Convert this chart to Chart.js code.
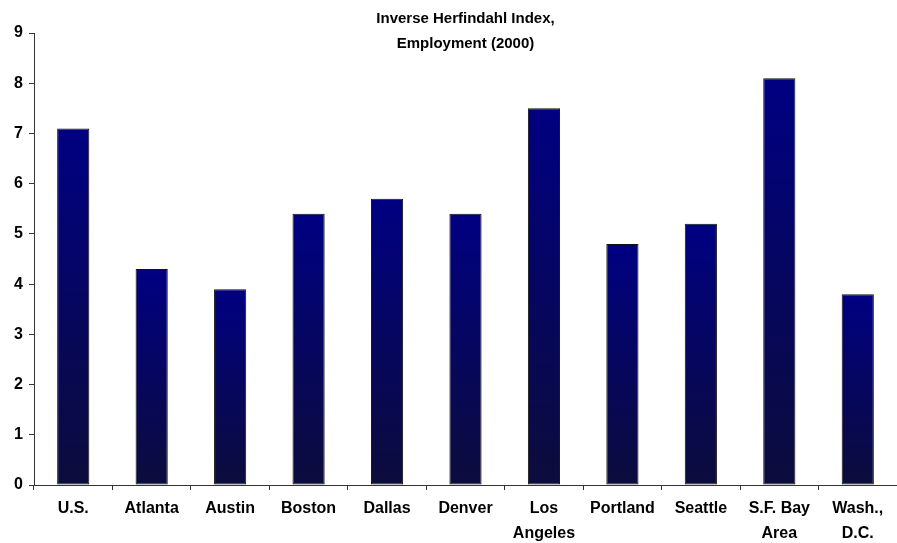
<!DOCTYPE html>
<html>
<head>
<meta charset="utf-8">
<style>
  html, body { margin: 0; padding: 0; background: #ffffff; }
  #wrap { width: 897px; height: 543px; }
</style>
<script src="https://cdn.jsdelivr.net/npm/chart.js@4/dist/chart.umd.min.js"></script>
</head>
<body>
<div id="wrap"><canvas id="c" width="897" height="543"></canvas></div>
<script>
const titleLines = ['Inverse Herfindahl Index,', 'Employment (2000)'];
const categories = ['U.S.', 'Atlanta', 'Austin', 'Boston', 'Dallas', 'Denver', ['Los', 'Angeles'], 'Portland', 'Seattle', ['S.F. Bay', 'Area'], ['Wash.,', 'D.C.']];
const values = [7.1, 4.3, 3.9, 5.4, 5.7, 5.4, 7.5, 4.8, 5.2, 8.1, 3.8];
const yMin = 0, yMax = 9, yStep = 1;

const FONT = '"Liberation Sans", Arial, Helvetica, sans-serif';

function barGradient(c) {
  const chart = c.chart;
  const ys = chart.scales && chart.scales.y;
  if (!chart.chartArea || !ys) return '#000080';
  const v = c.parsed ? c.parsed.y : values[c.dataIndex];
  const top = ys.getPixelForValue(v);
  const bot = ys.getPixelForValue(0);
  const g = chart.ctx.createLinearGradient(0, top, 0, bot);
  g.addColorStop(0, '#000082');
  g.addColorStop(1, '#0c0c3c');
  return g;
}

new Chart(document.getElementById('c'), {
  type: 'bar',
  data: {
    labels: categories,
    datasets: [{
      data: values,
      backgroundColor: barGradient,
      borderColor: '#111111',
      borderWidth: 1,
      borderSkipped: false,
      categoryPercentage: 1,
      barPercentage: 0.41
    }]
  },
  options: {
    responsive: false,
    animation: false,
    layout: { padding: 0 },
    plugins: {
      legend: { display: false },
      tooltip: { enabled: false },
      title: {
        display: true,
        text: titleLines,
        fullSize: false,
        color: '#000',
        font: { family: FONT, size: 15, weight: 'bold', lineHeight: 25 / 15 },
        padding: { top: 6, bottom: -23 }
      }
    },
    scales: {
      x: {
        grid: {
          offset: true,
          drawOnChartArea: false,
          drawTicks: true,
          tickLength: 5,
          tickColor: '#333'
        },
        border: { display: true, color: '#333', width: 1 },
        ticks: {
          color: '#000',
          padding: 6,
          maxRotation: 0,
          autoSkip: false,
          font: { family: FONT, size: 16, weight: 'bold', lineHeight: 25 / 16 }
        },
        afterFit: (s) => { s.height = 58; }
      },
      y: {
        min: yMin,
        max: yMax,
        grid: {
          drawOnChartArea: false,
          drawTicks: true,
          tickLength: 5,
          tickColor: '#333'
        },
        border: { display: true, color: '#333', width: 1 },
        ticks: {
          stepSize: yStep,
          color: '#000',
          padding: 6,
          font: { family: FONT, size: 16, weight: 'bold' }
        },
        afterFit: (s) => { s.width = 34; }
      }
    }
  }
});
</script>
</body>
</html>
